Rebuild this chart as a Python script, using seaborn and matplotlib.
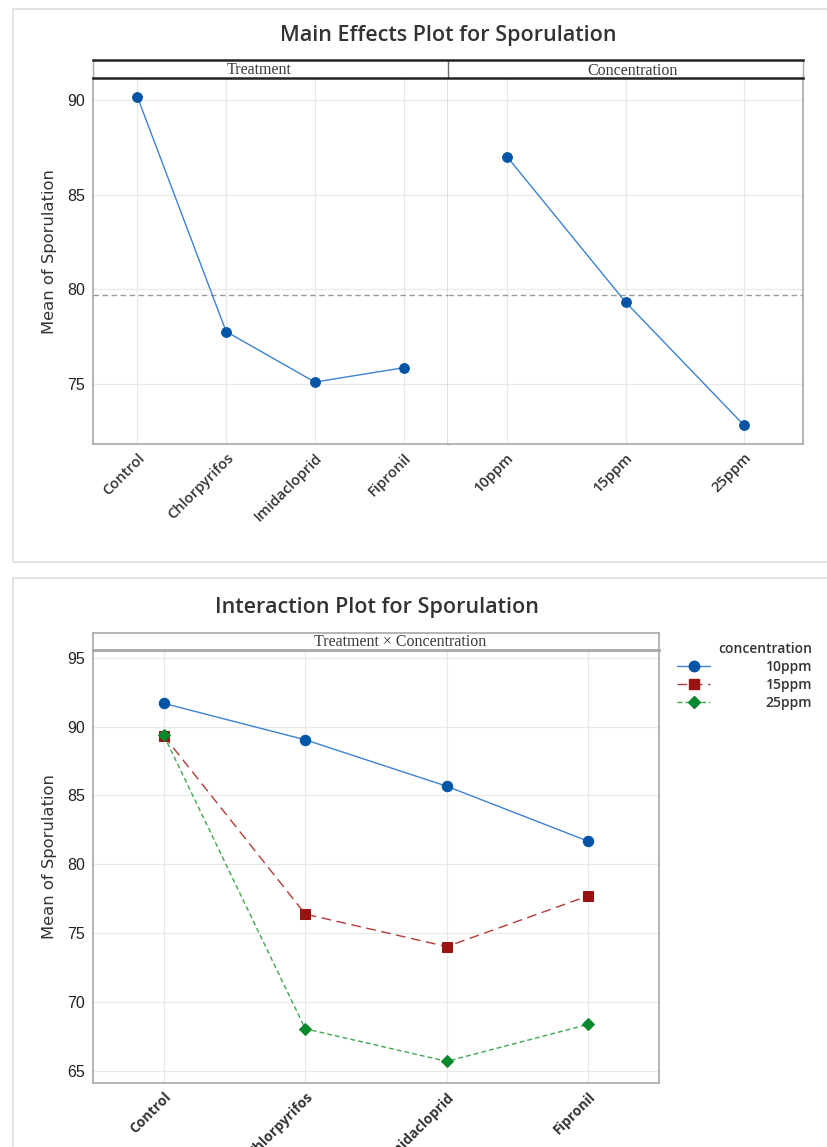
import numpy as np
import pandas as pd
import matplotlib
matplotlib.use("Agg")
import matplotlib.pyplot as plt
from matplotlib.lines import Line2D
from matplotlib.patches import Rectangle
import seaborn as sns

# ---------------- data ----------------
treatments = ["Control", "Chlorpyrifos", "Imidacloprid", "Fipronil"]
concentrations = ["10ppm", "15ppm", "25ppm"]
treatment_means = [90.17, 77.77, 75.10, 75.86]
concentration_means = [87.00, 79.33, 72.83]
inter_10ppm = [91.68, 89.04, 85.67, 81.68]
inter_15ppm = [89.33, 76.40, 74.04, 77.72]
inter_25ppm = [89.36, 68.08, 65.72, 68.40]
top_yticks = [75, 80, 85, 90]
bot_yticks = [65, 70, 75, 80, 85, 90, 95]

grand_mean = float(np.mean(treatment_means))

sns.set_theme(style="white")
plt.rcParams["font.family"] = ["Liberation Sans", "DejaVu Sans"]

W, H = 827, 1147
fig = plt.figure(figsize=(W / 100, H / 100), dpi=100)
fig.patch.set_facecolor("white")


def fx(px):
    return px / W


def fy(py):
    return 1 - py / H


# panel frames
fig.patches.append(Rectangle((fx(12.5), fy(562)), fx(900), (562 - 8.5) / H,
                             transform=fig.transFigure, fill=False,
                             edgecolor="#dedede", lw=1.2, zorder=0))
fig.patches.append(Rectangle((fx(12.5), fy(1200)), fx(900), (1200 - 578) / H,
                             transform=fig.transFigure, fill=False,
                             edgecolor="#dedede", lw=1.2, zorder=0))

BLUE_M = "#0054a6"
BLUE_L = "#3c82d2"
RED_M = "#9b1212"
RED_L = "#b43a3a"
GRN_M = "#08882c"
GRN_L = "#3fa84e"
GRID = "#e8e8e8"
SPINE = "#a8a8a8"
TXT = "#333333"

XFONT = ["Open Sans", "DejaVu Sans"]

# ---------------- main effects ----------------
top_y0, top_y1 = 444, 77.5
ylim_top = (71.83, 91.19)
axT = fig.add_axes([fx(93), fy(top_y0), fx(355), (top_y0 - top_y1) / H])
axC = fig.add_axes([fx(448), fy(top_y0), fx(355), (top_y0 - top_y1) / H])

dfT = pd.DataFrame({"Treatment": treatments, "Mean": treatment_means})
dfC = pd.DataFrame({"Concentration": concentrations, "Mean": concentration_means})

for ax, df, xcol in [(axT, dfT, "Treatment"), (axC, dfC, "Concentration")]:
    sns.pointplot(data=df, x=xcol, y="Mean", ax=ax, color=BLUE_L,
                  markers="o", linestyles="-", markersize=7, linewidth=1.0,
                  errorbar=None)
    for ln in ax.lines:
        ln.set_markerfacecolor(BLUE_M)
        ln.set_markeredgecolor(BLUE_M)
    ax.set_ylim(*ylim_top)
    ax.set_xlim(-0.5, len(df) - 0.5)
    ax.set_yticks(top_yticks)
    ax.grid(True, color=GRID, lw=0.9)
    ax.set_axisbelow(True)
    ax.axhline(grand_mean, color="#9a9a9a", lw=1.0, ls=(0, (4, 2.5)), zorder=1)
    ax.set_xlabel("")
    ax.set_ylabel("")
    ax.tick_params(axis="x", length=4, width=1, color=SPINE, pad=1,
                   labelsize=10.5, labelcolor=TXT)
    for lab in ax.get_xticklabels():
        lab.set_rotation(45)
        lab.set_ha("right")
        lab.set_rotation_mode("anchor")
        lab.set_fontfamily(XFONT)
        lab.set_fontweight("semibold")
    for s in ax.spines.values():
        s.set_color(SPINE)
        s.set_linewidth(1.2)
    ax.spines["top"].set_visible(False)

axT.spines["right"].set_color("#6a6a6a")
axT.spines["right"].set_linewidth(1.0)
axC.spines["left"].set_visible(False)
axC.tick_params(axis="y", left=False, labelleft=False)
axT.tick_params(axis="y", length=4, width=1, color=SPINE, pad=2, labelsize=11.5,
                labelcolor="#222222")
axT.set_ylabel("Mean of Sporulation", fontsize=11.8, color=TXT,
               family=["DejaVu Sans"])
axT.yaxis.set_label_coords((57 - 93) / 355, (444 - 252) / 366.5)

# strip for main effects
stripT = fig.add_axes([fx(93), fy(77.5), fx(710), 17.5 / H])
stripT.set_xlim(0, 1)
stripT.set_ylim(0, 1)
stripT.set_xticks([])
stripT.set_yticks([])
stripT.set_facecolor("white")
for side in ["top", "bottom"]:
    stripT.spines[side].set_color("#222222")
    stripT.spines[side].set_linewidth(1.8)
for side in ["left", "right"]:
    stripT.spines[side].set_color(SPINE)
    stripT.spines[side].set_linewidth(1.0)
stripT.axvline(0.5, color="#6a6a6a", lw=1.0)
stripT.text((259 - 93) / 710, 0.42, "Treatment", ha="center", va="center",
            fontsize=11.5, color="#3a3a3a", family=["Liberation Serif", "DejaVu Serif"])
stripT.text((633 - 93) / 710, 0.35, "Concentration", ha="center", va="center",
            fontsize=11.5, color="#3a3a3a", family=["Liberation Serif", "DejaVu Serif"])

fig.text(fx(448), fy(36), "Main Effects Plot for Sporulation", ha="center",
         va="center", fontsize=15.5, color=TXT,
         family=["Open Sans", "DejaVu Sans"], weight="semibold")

# ---------------- interaction ----------------
bot_y0, bot_y1 = 1083, 650
axI = fig.add_axes([fx(93), fy(bot_y0), fx(566), (bot_y0 - bot_y1) / H])
dfI = pd.DataFrame({
    "Treatment": treatments * 3,
    "concentration": ["10ppm"] * 4 + ["15ppm"] * 4 + ["25ppm"] * 4,
    "Mean": inter_10ppm + inter_15ppm + inter_25ppm,
})
line_cols = [BLUE_L, RED_L, GRN_L]
mark_cols = [BLUE_M, RED_M, GRN_M]
dashes = ["-", (0, (7, 4)), (0, (3.5, 2.2))]
msizes = [7.5, 7, 6]
sns.pointplot(data=dfI, x="Treatment", y="Mean", hue="concentration", ax=axI,
              palette=line_cols, markers=["o", "s", "D"],
              linestyles=["-", "--", "--"], markersize=7, linewidth=1.0,
              errorbar=None, legend=False)
lines = [ln for ln in axI.lines if len(ln.get_xdata()) == 4]
for ln, mc, ds, ms in zip(lines, mark_cols, dashes, msizes):
    ln.set_markerfacecolor(mc)
    ln.set_markeredgecolor(mc)
    ln.set_linestyle(ds)
    ln.set_markersize(ms)
axI.set_ylim(64.15, 95.55)
axI.set_xlim(-0.5, 3.5)
axI.set_yticks(bot_yticks)
axI.grid(True, color=GRID, lw=0.9)
axI.set_axisbelow(True)
axI.set_xlabel("")
axI.set_ylabel("Mean of Sporulation", fontsize=11.8, color=TXT,
               family=["DejaVu Sans"])
axI.yaxis.set_label_coords((57 - 93) / 566, (1083 - 857) / 433)
axI.tick_params(axis="y", length=4, width=1, color=SPINE, pad=2, labelsize=11.5,
                labelcolor="#222222")
axI.tick_params(axis="x", length=4, width=1, color=SPINE, pad=1,
                labelsize=10, labelcolor=TXT)
for lab in axI.get_xticklabels():
    lab.set_rotation(45)
    lab.set_ha("right")
    lab.set_rotation_mode("anchor")
    lab.set_fontfamily(XFONT)
    lab.set_fontweight("bold")
for s in axI.spines.values():
    s.set_color(SPINE)
    s.set_linewidth(1.2)
axI.spines["top"].set_visible(False)

stripI = fig.add_axes([fx(93), fy(650), fx(566), 17.5 / H])
stripI.set_xlim(0, 1)
stripI.set_ylim(0, 1)
stripI.set_xticks([])
stripI.set_yticks([])
for side in ["top", "bottom", "left", "right"]:
    stripI.spines[side].set_color(SPINE)
    stripI.spines[side].set_linewidth(1.2)
stripI.spines["bottom"].set_linewidth(2.0)
stripI.text((400 - 93) / 566, 0.45, "Treatment × Concentration", ha="center",
            va="center", fontsize=11.5, color="#3a3a3a",
            family=["Liberation Serif", "DejaVu Serif"])

fig.text(fx(377), fy(607), "Interaction Plot for Sporulation", ha="center",
         va="center", fontsize=15.5, color=TXT,
         family=["Open Sans", "DejaVu Sans"], weight="semibold")

handles = [Line2D([0], [0], color=lc, ls=ds, lw=1.0, marker=mk, markersize=ms,
                  markerfacecolor=mc, markeredgecolor=mc)
           for lc, mc, ds, mk, ms in zip(line_cols, mark_cols, dashes,
                                         ["o", "s", "D"], msizes)]
leg = fig.legend(handles, concentrations, title="concentration",
                 loc="upper right", bbox_to_anchor=(fx(822), fy(632)),
                 bbox_transform=fig.transFigure, frameon=False,
                 alignment="right", handlelength=2.4, handletextpad=4.0,
                 labelspacing=0.3, borderpad=0.2,
                 prop=dict(family=XFONT, size=10, weight="semibold"),
                 title_fontproperties=dict(family=XFONT, size=10,
                                           weight="semibold"))
for t in leg.get_texts():
    t.set_color(TXT)
leg.get_title().set_color(TXT)

fig.savefig("out.png", dpi=100, facecolor="white")
